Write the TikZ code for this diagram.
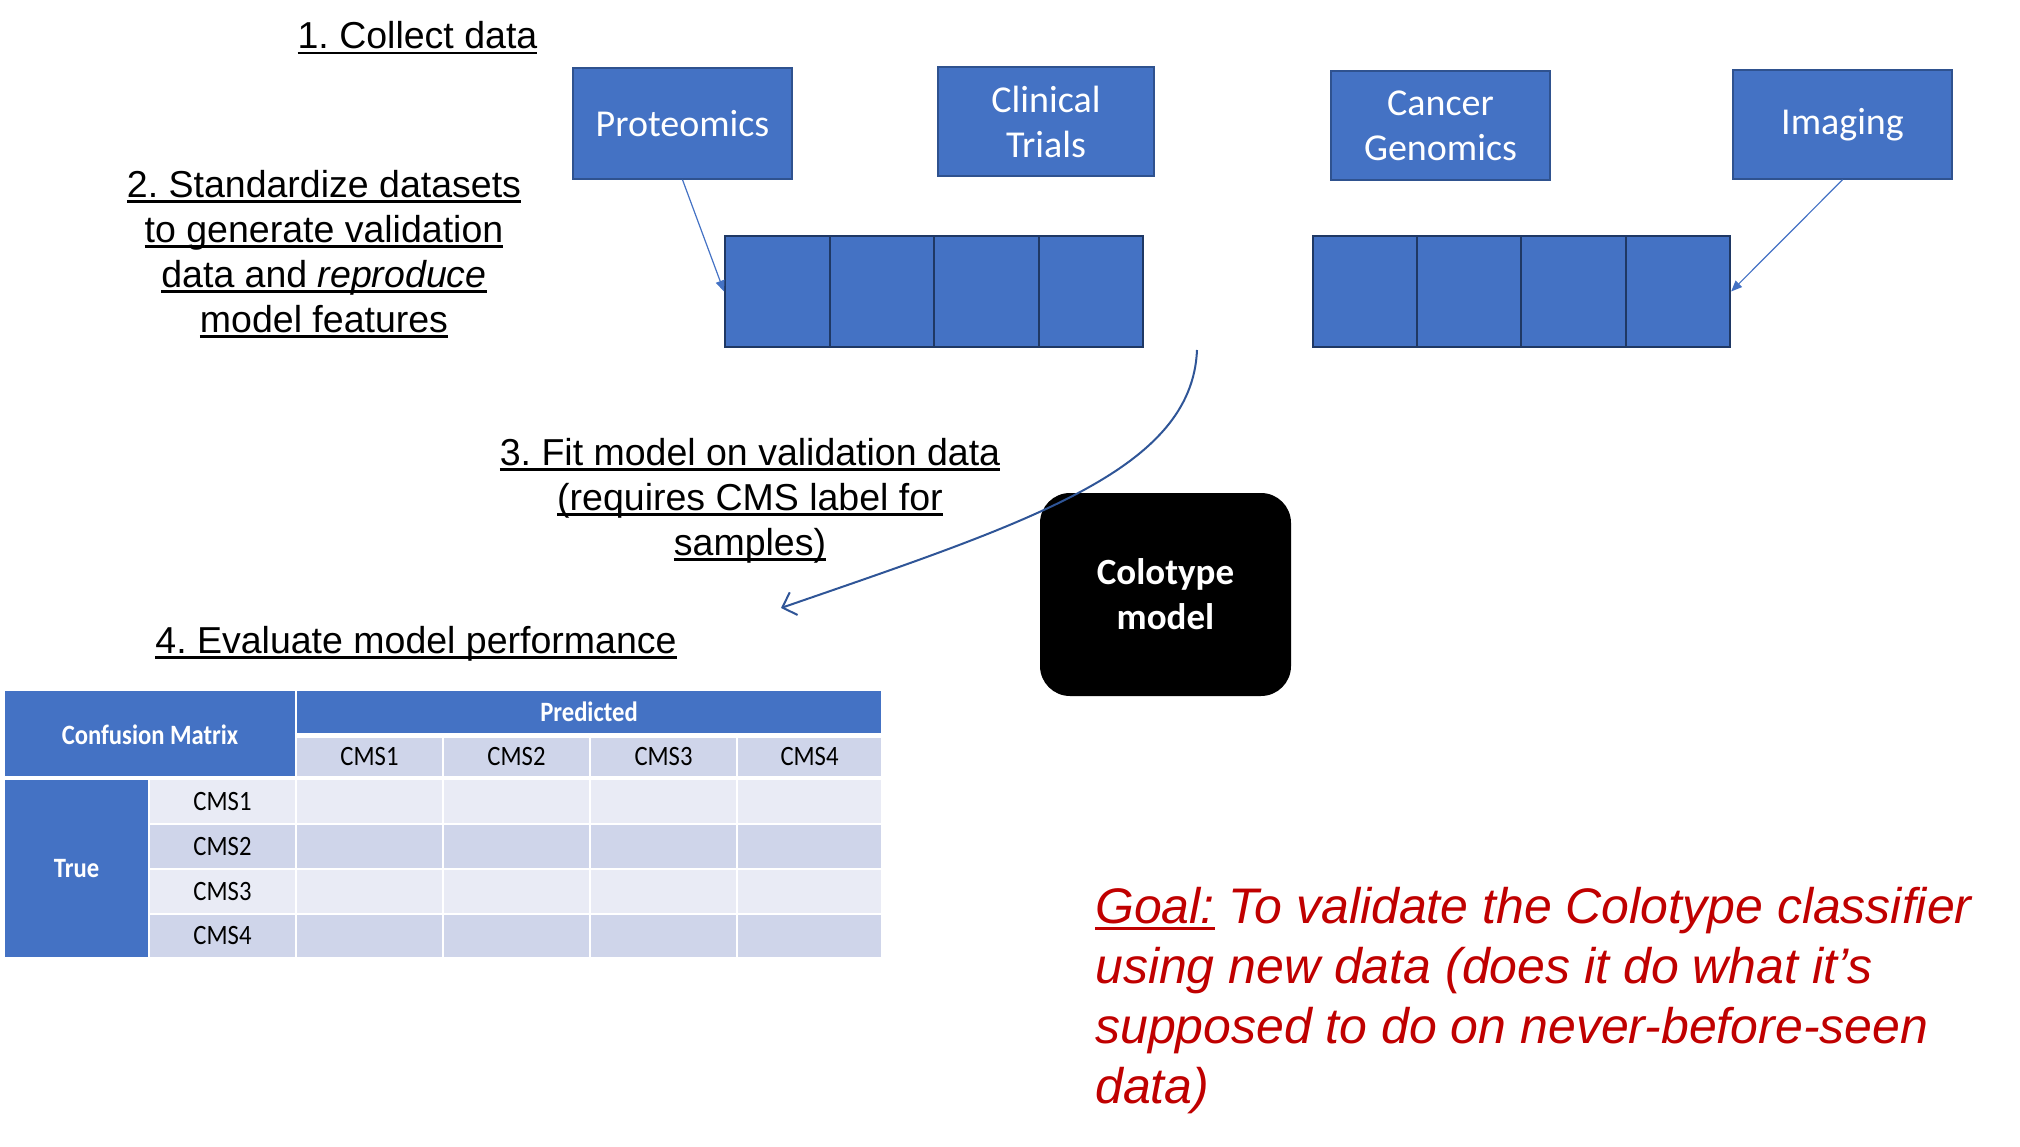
\documentclass[tikz,border=0pt]{standalone}
\usepackage{fontspec}
\setmainfont{Liberation Sans}
\newfontfamily\calfont{Carlito}
\usetikzlibrary{arrows.meta}
\definecolor{pblue}{HTML}{4472C4}
\definecolor{pborder}{HTML}{2F528F}
\definecolor{sborder}{HTML}{1F3864}
\definecolor{lite}{HTML}{CFD5EA}
\definecolor{lighter}{HTML}{E9EBF5}
\definecolor{goalred}{HTML}{C00000}
\definecolor{curvec}{HTML}{2F5597}
\frenchspacing
\newcommand{\stepul}[1]{\setbox0\hbox{#1}\rlap{\rule[-5.5pt]{\wd0}{2.6pt}}\box0\relax}
\newcommand{\goalul}[1]{\setbox0\hbox{#1}\rlap{\rule[-7pt]{\wd0}{3pt}}\box0\relax}
\newcommand{\sq}[1]{\scalebox{0.88}[1]{#1}}
\begin{document}
\begin{tikzpicture}[x=1pt,y=-1pt,
  srcbox/.style={draw=pborder, line width=1.5pt, fill=pblue, text=white, minimum width=219pt, minimum height=110pt, align=center, font=\calfont\fontsize{38}{45}\selectfont, inner sep=0pt},
  stripcell/.style={draw=sborder, line width=2pt, fill=pblue, minimum width=104.5pt, minimum height=111pt, inner sep=0pt},
  steptext/.style={font=\fontsize{37.5}{45}\selectfont, align=center, inner sep=0pt},
  feed/.style={draw=pblue, line width=1.2pt, -{Triangle[length=11pt,width=9pt]}},
  tcell/.style={draw=white, line width=2.5pt, inner sep=0pt, font=\calfont\fontsize{28}{30}\selectfont},
  thead/.style={tcell, fill=pblue, text=white, font=\calfont\bfseries\fontsize{28}{30}\selectfont},
]
\useasboundingbox (0,0) rectangle (2020,1147);

% step texts
\node[steptext, anchor=base] (s1) at (417.5,49) {\stepul{1. Collect data}};
\node[steptext, anchor=north] (s2) at (324,170) {\stepul{2. Standardize datasets}\\ \stepul{to generate validation}\\ \stepul{data and \textit{reproduce}}\\ \stepul{model features}};
\node[steptext, anchor=north] (s3) at (750,438) {\stepul{3. Fit model on validation data}\\ \stepul{(requires CMS label for}\\ \stepul{samples)}};
\node[steptext, anchor=base] (s4) at (416,653) {\stepul{4. Evaluate model performance}};

% source boxes
\node[srcbox, minimum width=219pt, minimum height=111pt] (prot) at (682.5,123.5) {Proteomics};
\node[srcbox, minimum width=216pt, minimum height=109pt] (clin) at (1046,121.5) {Clinical\\Trials};
\node[srcbox, minimum width=219pt, minimum height=109pt] (canc) at (1440.5,125.5) {Cancer\\Genomics};
\node[srcbox, minimum width=219pt, minimum height=109pt] (imag) at (1842.5,124.5) {Imaging};

% strips
\foreach \i/\x in {1/777.25,2/881.75,3/986.25,4/1090.75} {
  \node[stripcell] (L\i) at (\x,291.5) {};
}
\foreach \i/\x in {1/1365.1,2/1469.4,3/1573.6,4/1677.9} {
  \node[stripcell] (R\i) at (\x,291.5) {};
}
\draw[feed] (prot.south) -- (L1.west);
\draw[feed] (imag.south) -- (R4.east);

% colotype model
\node[fill=black, rounded corners=30pt, minimum width=251pt, minimum height=203pt, text=white, align=center, font=\calfont\bfseries\fontsize{37}{45}\selectfont, inner sep=0pt] (model) at (1165.5,594.5) {Colotype\\model};

% curved arrow
\coordinate (cstart) at (1197,350);
\coordinate (cend) at (781,608);
\draw[curvec, line width=2pt, -{Straight Barb[length=12pt,width=24pt,line width=2pt]}] (cstart) .. controls (1192,470) and (1030,522) .. (cend);

% confusion matrix table
\node[thead, minimum width=292pt, minimum height=89pt] (cm) at (150,734.5) {\sq{Confusion Matrix}};
\node[thead, minimum width=586pt, minimum height=44pt] (pred) at (589,712) {\sq{Predicted}};
\node[thead, minimum width=145pt, minimum height=179pt] (true) at (76.5,868.5) {\sq{True}};
\foreach \j/\x/\w in {1/369.5/147,2/516.5/147,3/663.5/147,4/809.5/145} {
  \node[tcell, fill=lite, minimum width=\w pt, minimum height=45pt] (ch\j) at (\x,756.5) {\sq{CMS\j}};
}
\foreach \i/\y/\h/\f in {1/801.5/45/lighter,2/846.5/45/lite,3/891.5/45/lighter,4/936/44/lite} {
  \node[tcell, fill=\f, minimum width=147pt, minimum height=\h pt] (rh\i) at (222.5,\y) {\sq{CMS\i}};
  \foreach \j/\x/\w in {1/369.5/147,2/516.5/147,3/663.5/147,4/809.5/145} {
    \node[tcell, fill=\f, minimum width=\w pt, minimum height=\h pt] (d\i\j) at (\x,\y) {};
  }
}
\draw[white, line width=5pt] (pred.south west) -- (pred.south east);
\draw[white, line width=4.5pt] (true.north west) -- (ch4.south east |- true.north);

% goal text
\node[anchor=north west, align=left, inner sep=0pt, text=goalred, font=\itshape\fontsize{50}{60}\selectfont] (goal) at (1095,887) {\goalul{Goal:} To validate the Colotype classifier\\ using new data (does it do what it’s\\ supposed to do on never-before-seen\\ data)};
\end{tikzpicture}
\end{document}
